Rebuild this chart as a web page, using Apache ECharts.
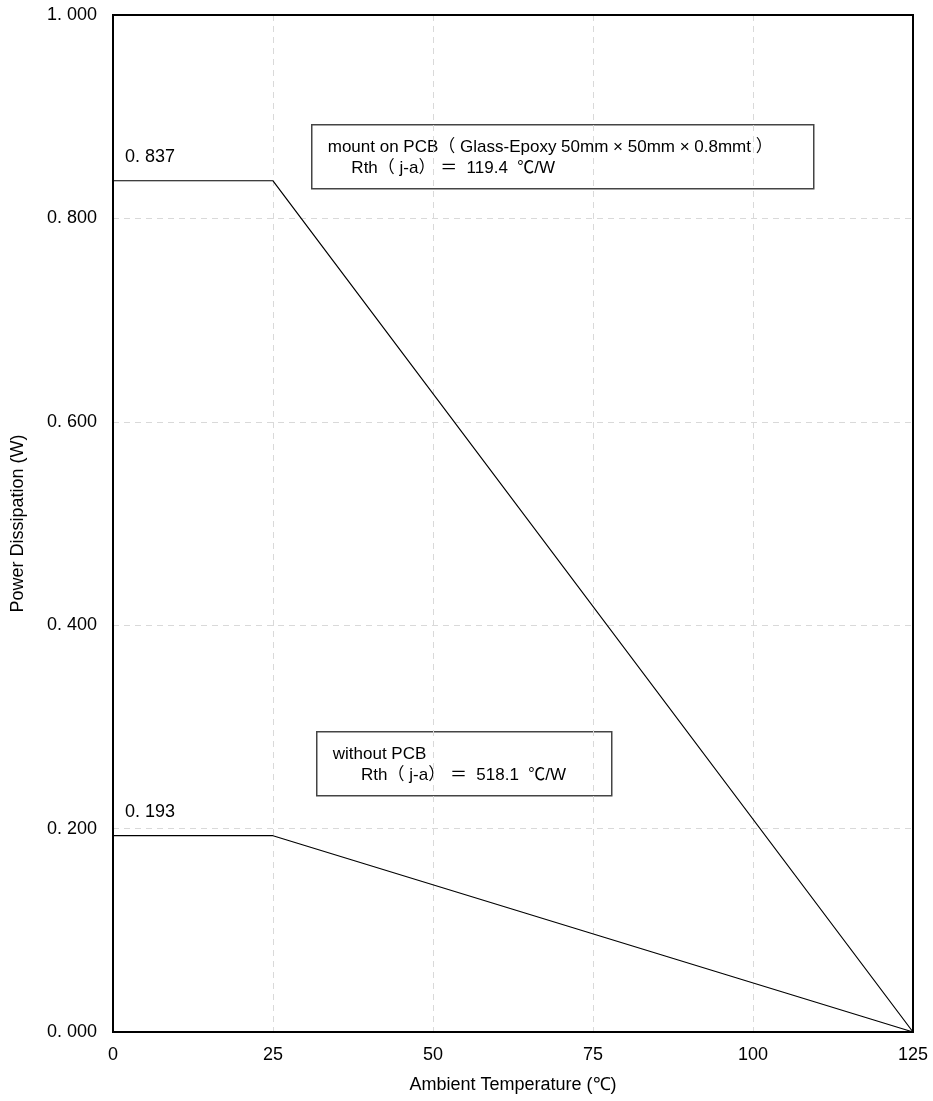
<!DOCTYPE html>
<html><head><meta charset="utf-8">
<script src="https://cdn.jsdelivr.net/npm/echarts@6/dist/echarts.min.js"></script>
<style>html,body{margin:0;padding:0;background:#fff}#c{width:933px;height:1101px}</style>
</head><body><div id="c"></div>
<script>
const xTicks = [0, 25, 50, 75, 100, 125];
const yTicks = [0, 0.2, 0.4, 0.6, 0.8, 1.0];
const withPCB = [[0, 0.837], [25, 0.837], [125, 0]];
const withoutPCB = [[0, 0.193], [25, 0.193], [125, 0]];
const note1 = ['mount on PCB（ Glass-Epoxy 50mm × 50mm × 0.8mmt ）', '     Rth（ j-a） ＝  119.4  ℃/W'];
const note2 = ['without PCB', '      Rth（ j-a） ＝  518.1  ℃/W'];

const tickFont = '"Liberation Sans Narrow", "Liberation Sans", sans-serif';
const noteFont = '"Liberation Sans", "Noto Sans CJK JP", sans-serif';

function fmtY(v){ return v.toFixed(3).replace('.', '. '); }

const chart = echarts.init(document.getElementById('c'), null, {renderer:'canvas'});
function seriesOf(data){
  return {
    type:'line', data:data, symbol:'none', silent:true, z:3,
    lineStyle:{color:'#000', width:1.2},
    markPoint:{
      symbol:'circle', symbolSize:0,
      data:[{coord:data[0], value:fmtY(data[0][1]),
        label:{show:true, position:'right', align:'left', verticalAlign:'bottom', offset:[7,-15],
          formatter:'{c}', color:'#000', fontSize:18, fontFamily:tickFont}}]
    }
  };
}
chart.setOption({
  animation:false,
  backgroundColor:'#fff',
  grid:{left:113, right:20, top:15, bottom:69, show:true, borderColor:'#000', borderWidth:2, z:10},
  xAxis:{type:'value', min:0, max:125, interval:25,
    axisLine:{show:false}, axisTick:{show:false},
    axisLabel:{color:'#000', fontSize:18, fontFamily:tickFont, margin:14},
    splitLine:{show:true, showMinLine:false, showMaxLine:false, lineStyle:{color:'#d9d9d9', type:[6,5], width:1}},
    name:'Ambient Temperature (℃)', nameLocation:'middle', nameGap:44,
    nameTextStyle:{color:'#000', fontSize:18, fontFamily:'"Liberation Sans", Arial, sans-serif'}
  },
  yAxis:{type:'value', min:0, max:1, interval:0.2,
    axisLine:{show:false}, axisTick:{show:false},
    axisLabel:{color:'#000', fontSize:18, fontFamily:tickFont, margin:16, formatter:fmtY},
    splitLine:{show:true, showMinLine:false, showMaxLine:false, lineStyle:{color:'#d9d9d9', type:[6,5], width:1}},
    name:'Power Dissipation (W)', nameLocation:'middle', nameGap:86,
    nameTextStyle:{color:'#000', fontSize:18, fontFamily:'"Liberation Sans", Arial, sans-serif'}
  },
  series:[seriesOf(withPCB), seriesOf(withoutPCB)],
  graphic:[
    {type:'group', left:311, top:124, children:[
      {type:'rect', shape:{x:0,y:0,width:502,height:64}, style:{fill:'#fff', stroke:'#444', lineWidth:1.5}},
      {type:'text', x:16, y:12, style:{text:note1.join('\n'), font:'17px '+noteFont, fill:'#000', lineHeight:21}}
    ]},
    {type:'group', left:316, top:731, children:[
      {type:'rect', shape:{x:0,y:0,width:295,height:64}, style:{fill:'#fff', stroke:'#444', lineWidth:1.5}},
      {type:'text', x:16, y:12, style:{text:note2.join('\n'), font:'17px '+noteFont, fill:'#000', lineHeight:21}}
    ]}
  ]
});
</script></body></html>
